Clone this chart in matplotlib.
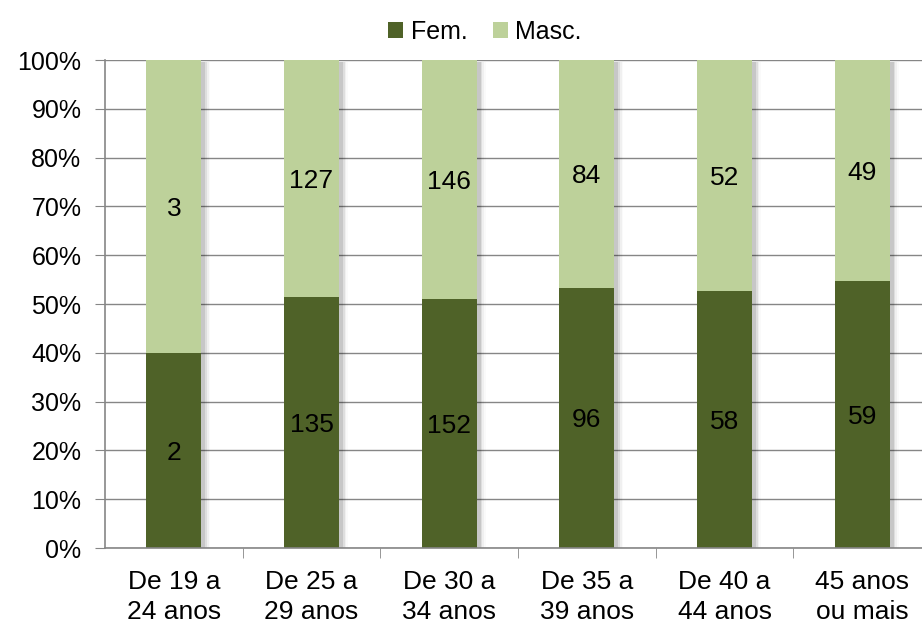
import numpy as np
import matplotlib.pyplot as plt
from matplotlib.patches import Rectangle

plt.rcParams['font.family'] = ['Liberation Sans', 'DejaVu Sans']

categories = ['De 19 a\n24 anos', 'De 25 a\n29 anos', 'De 30 a\n34 anos',
              'De 35 a\n39 anos', 'De 40 a\n44 anos', '45 anos\nou mais']
fem = [2, 135, 152, 96, 58, 59]
masc = [3, 127, 146, 84, 52, 49]

fem = np.array(fem, dtype=float)
masc = np.array(masc, dtype=float)
total = fem + masc
fem_pct = fem / total * 100
masc_pct = masc / total * 100

dark = '#4F6228'
light = '#BDD19A'

fig = plt.figure(figsize=(9.22, 6.32), dpi=100)
ax = fig.add_axes([105 / 922, 1 - 548 / 632, 826 / 922, 488 / 632])

x = np.arange(len(categories))
w = 0.4

# soft shadow to the right of each bar
for xi in x:
    for k, a in enumerate([0.10, 0.07, 0.04, 0.02]):
        ax.add_patch(Rectangle((xi - w / 2 + 0.02, 0), w + 0.01 + k * 0.012, 99.6,
                               color='black', alpha=a, lw=0, zorder=1))

ax.bar(x, fem_pct, w, color=dark, label='Fem.', zorder=2)
ax.bar(x, masc_pct, w, bottom=fem_pct, color=light, label='Masc.', zorder=2)

for xi, f, m, fp, mp in zip(x, fem, masc, fem_pct, masc_pct):
    ax.text(xi, fp / 2, f'{int(f)}', ha='center', va='center_baseline', fontsize=19, zorder=3)
    ax.text(xi, fp + mp / 2, f'{int(m)}', ha='center', va='center_baseline', fontsize=19, zorder=3)

ax.set_xlim(-0.5, len(categories) - 0.5)
ax.set_ylim(0, 100)
ax.set_yticks(np.arange(0, 101, 10))
ax.set_yticklabels([f'{v}%' for v in range(0, 101, 10)], fontsize=18)
ax.yaxis.grid(True, color='#868686', lw=1)
ax.set_axisbelow(True)
ax.tick_params(axis='y', length=7, color='#868686', pad=10)

ax.set_xticks(x)
ax.set_xticklabels(categories, fontsize=19, linespacing=1.3)
ax.set_xticks(np.arange(0.5, len(categories) - 0.5, 1), minor=True)
ax.tick_params(axis='x', which='major', length=0, pad=16)
ax.tick_params(axis='x', which='minor', length=7, color='#868686')

for s in ['top', 'right']:
    ax.spines[s].set_visible(False)
for s in ['left', 'bottom']:
    ax.spines[s].set_color('#868686')
    ax.spines[s].set_linewidth(1.2)

fig.legend(loc='upper center', bbox_to_anchor=(485 / 922, 1.0), ncol=2, frameon=False,
           fontsize=18, handlelength=0.6, handleheight=0.6, handletextpad=0.3,
           columnspacing=1.0, borderaxespad=0.4)

fig.savefig('out.png', dpi=100)
